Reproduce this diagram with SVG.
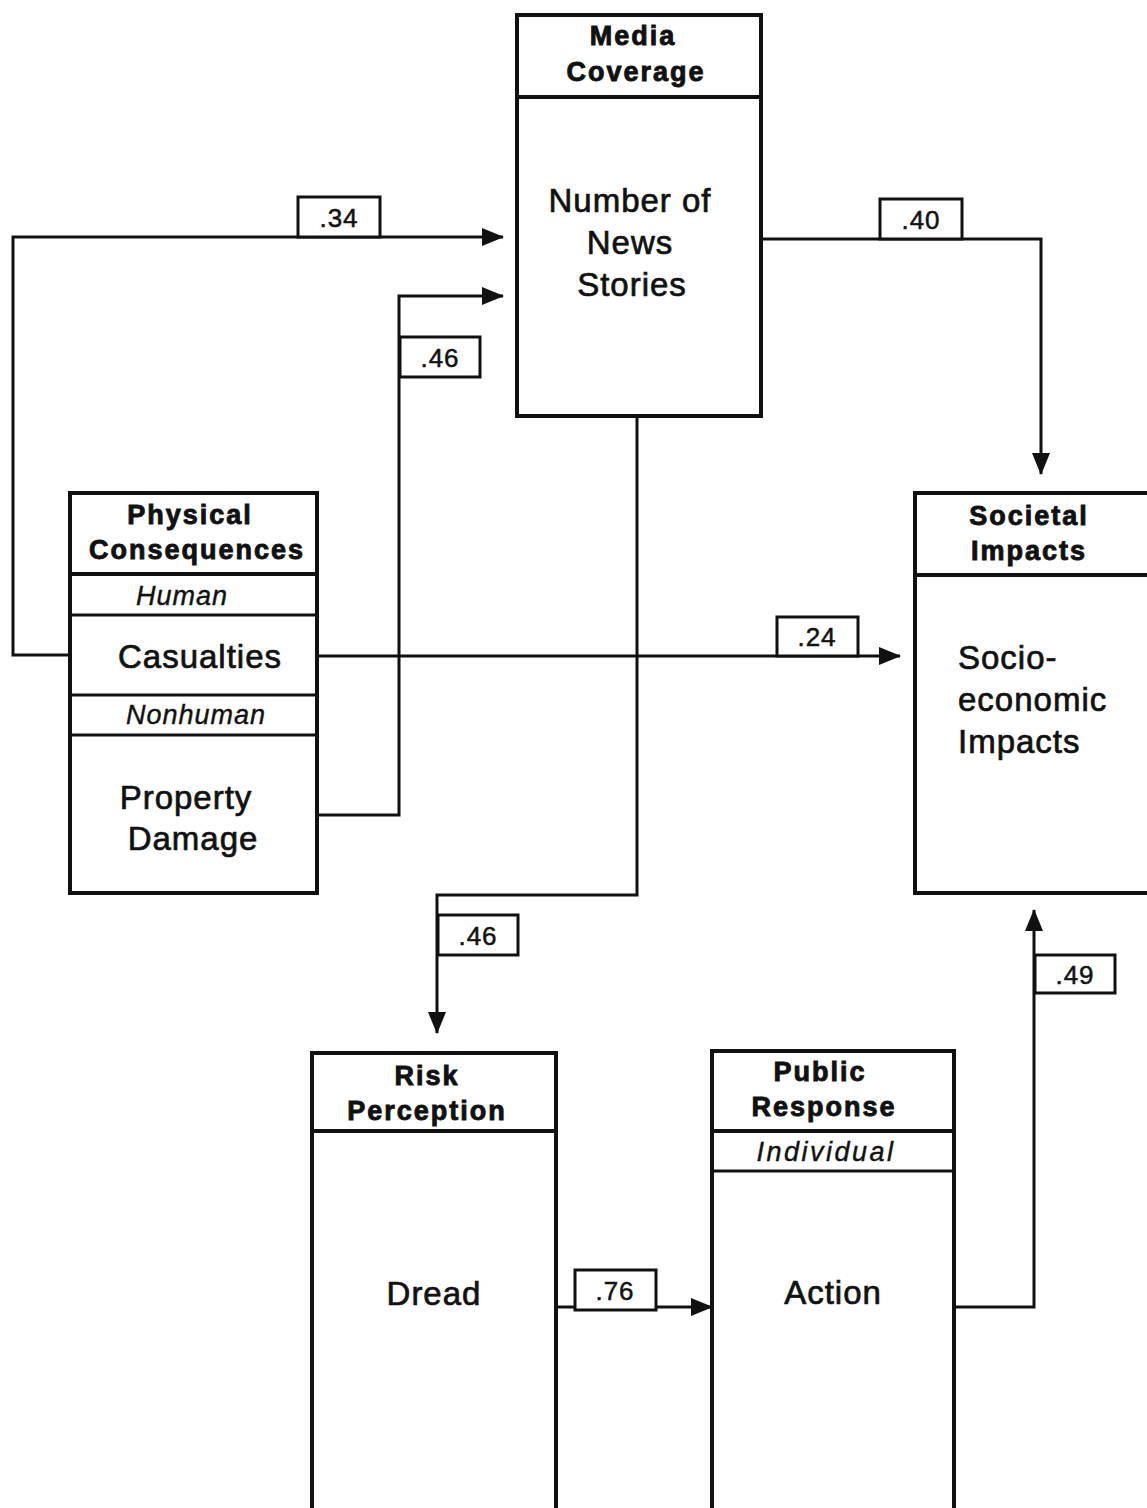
<svg xmlns="http://www.w3.org/2000/svg" width="1147" height="1508" viewBox="0 0 1147 1508">
<style>
.box{fill:#fff;stroke:#111;stroke-width:4}
.div{stroke:#111;stroke-width:4}
.sub{stroke:#111;stroke-width:3}
.title{font-family:"Liberation Sans",Arial,sans-serif;font-weight:bold;font-size:27px;letter-spacing:2px;fill:#111;stroke:#111;stroke-width:0.9;text-anchor:middle}
.body{font-family:"Liberation Sans",Arial,sans-serif;font-size:33px;letter-spacing:1px;fill:#111;stroke:#111;stroke-width:0.7;text-anchor:middle}
.ital{font-family:"Liberation Sans",Arial,sans-serif;font-style:italic;font-size:27px;letter-spacing:1px;fill:#111;stroke:#111;stroke-width:0.4;text-anchor:middle}
.conn{fill:none;stroke:#111;stroke-width:3}
.lbl rect{fill:#fff;stroke:#111;stroke-width:3}
.lbl text{font-family:"Liberation Sans",Arial,sans-serif;font-size:26px;letter-spacing:1px;fill:#111;stroke:#111;stroke-width:0.5;text-anchor:middle}
</style>
<defs>
<marker id="arr" markerUnits="userSpaceOnUse" markerWidth="22" markerHeight="18" refX="21" refY="9" orient="auto">
<path d="M0,0 L22,9 L0,18 z" fill="#111"/>
</marker>
</defs>
<rect width="1147" height="1508" fill="#fff"/>
<g id="connectors">
<path class="conn" d="M70,655 H13 V237 H503" marker-end="url(#arr)"/>
<path class="conn" d="M317,815 H399 V296 H503" marker-end="url(#arr)"/>
<path class="conn" d="M761,239 H1041 V474" marker-end="url(#arr)"/>
<path class="conn" d="M317,656 H900" marker-end="url(#arr)"/>
<path class="conn" d="M637,416 V895 H437 V1033" marker-end="url(#arr)"/>
<path class="conn" d="M556,1307 H712" marker-end="url(#arr)"/>
<path class="conn" d="M954,1307 H1034 V910" marker-end="url(#arr)"/>
<g class="lbl"><rect x="298" y="197" width="82" height="40"/><text x="339" y="227">.34</text></g>
<g class="lbl"><rect x="400" y="337" width="80" height="40"/><text x="440" y="367">.46</text></g>
<g class="lbl"><rect x="880" y="199" width="82" height="40"/><text x="921" y="229">.40</text></g>
<g class="lbl"><rect x="777" y="617" width="81" height="39"/><text x="817" y="646">.24</text></g>
<g class="lbl"><rect x="438" y="915" width="80" height="40"/><text x="478" y="945">.46</text></g>
<g class="lbl"><rect x="575" y="1270" width="81" height="40"/><text x="615" y="1300">.76</text></g>
<g class="lbl"><rect x="1035" y="955" width="80" height="38"/><text x="1075" y="984">.49</text></g>
</g>
<g id="media">
<rect class="box" x="517" y="15" width="244" height="401"/>
<line class="div" x1="517" y1="97" x2="761" y2="97"/>
<text class="title" x="633" y="45">Media</text>
<text class="title" x="636" y="81">Coverage</text>
<text class="body" x="630" y="212">Number of</text>
<text class="body" x="630" y="254">News</text>
<text class="body" x="632" y="296">Stories</text>
</g>
<g id="physical">
<rect class="box" x="70" y="493" width="247" height="400"/>
<line class="div" x1="70" y1="574" x2="317" y2="574"/>
<line class="sub" x1="70" y1="615" x2="317" y2="615"/>
<line class="sub" x1="70" y1="695" x2="317" y2="695"/>
<line class="sub" x1="70" y1="735" x2="317" y2="735"/>
<text class="title" x="190" y="524">Physical</text>
<text class="title" x="197" y="559">Consequences</text>
<text class="ital" x="182" y="605">Human</text>
<text class="body" x="200" y="668">Casualties</text>
<text class="ital" x="196" y="724">Nonhuman</text>
<text class="body" x="186" y="809">Property</text>
<text class="body" x="193" y="850">Damage</text>
</g>
<g id="societal">
<rect class="box" x="915" y="493" width="260" height="400"/>
<line class="div" x1="915" y1="575" x2="1147" y2="575"/>
<text class="title" x="1029" y="525">Societal</text>
<text class="title" x="1029" y="560">Impacts</text>
<text class="body" x="958" y="669" style="text-anchor:start">Socio-</text>
<text class="body" x="958" y="711" style="text-anchor:start">economic</text>
<text class="body" x="958" y="753" style="text-anchor:start">Impacts</text>
</g>
<g id="risk">
<rect class="box" x="312" y="1053" width="244" height="470"/>
<line class="div" x1="312" y1="1131" x2="556" y2="1131"/>
<text class="title" x="427" y="1085">Risk</text>
<text class="title" x="427" y="1120">Perception</text>
<text class="body" x="434" y="1305">Dread</text>
</g>
<g id="public">
<rect class="box" x="712" y="1051" width="242" height="470"/>
<line class="div" x1="712" y1="1131" x2="954" y2="1131"/>
<line class="sub" x1="712" y1="1171" x2="954" y2="1171"/>
<text class="title" x="820" y="1081">Public</text>
<text class="title" x="824" y="1116">Response</text>
<text class="ital" x="826" y="1161" style="letter-spacing:2.5px">Individual</text>
<text class="body" x="833" y="1304">Action</text>
</g>
</svg>
